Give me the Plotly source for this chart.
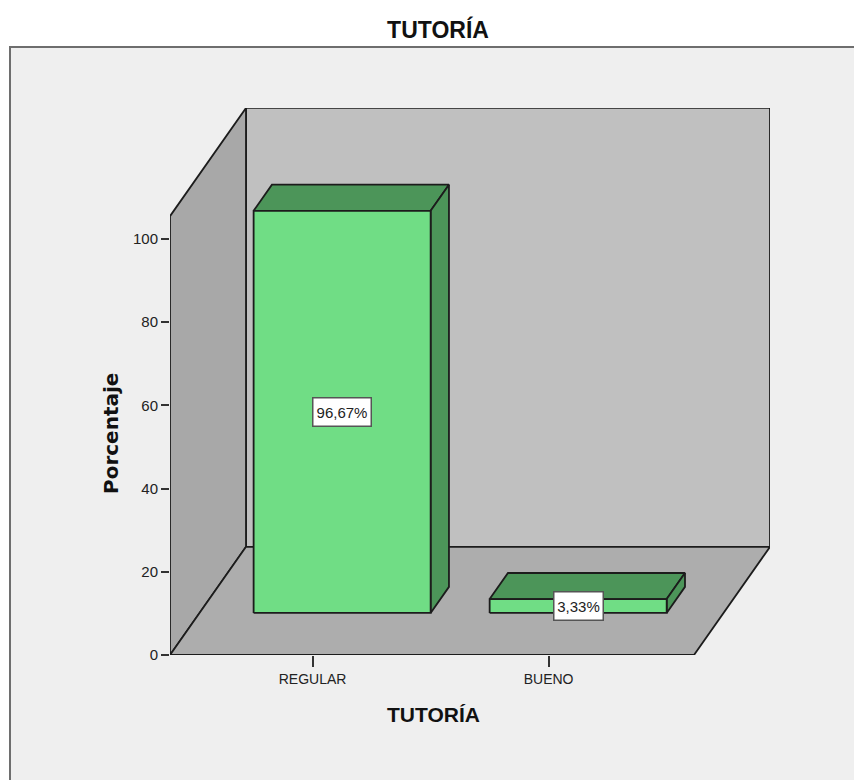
import plotly.graph_objects as go

# Data
categories = ["REGULAR", "BUENO"]
percentages = [96.67, 3.33]
labels = ["96,67%", "3,33%"]
y_ticks = [0, 20, 40, 60, 80, 100]
chart_title = "TUTORÍA"
x_title = "TUTORÍA"
y_title = "Porcentaje"

# Pseudo-3D projection, in axis units
BAR_W = 0.75
X_MIN, X_MAX = -0.604, 1.616
DEPTH_X, DEPTH_Y = 0.322, 26.0
WALL_TOP = 105.5
F0, F1 = 0.389, 0.63

# Page body has an 8px margin, so the figure is 846x772 and pixel values are offset
OFF = 8
W, H = 854 - OFF, 780 - OFF
L, R, T, B = 170 - OFF, 84, 108 - OFF, 125
PANEL = dict(x0=10 - OFF, x1=900, y0=47 - OFF, y1=800)
Y_MAX = (H - T - B) / 4.16
X_RANGE_MAX = X_MAX + DEPTH_X
LABEL_BOX_W = [57, 48]
LABEL_BOX_H = 27

LINE = "#1c1c1c"
BACK = "#c0c0c0"
SIDE = "#a8a8a8"
FLOOR = "#adadad"
BAR_FRONT = "#70dd85"
BAR_DARK = "#4c9559"


def proj(x, y, depth):
    return x + DEPTH_X * depth, y + DEPTH_Y * depth


def poly(points, fill, width=1.8, color=LINE):
    xs = [p[0] for p in points] + [points[0][0]]
    ys = [p[1] for p in points] + [points[0][1]]
    return go.Scatter(x=xs, y=ys, mode="lines", fill="toself", fillcolor=fill,
                      line=dict(color=color, width=width), hoverinfo="skip",
                      showlegend=False, cliponaxis=False)


fig = go.Figure()
# Walls and floor
fig.add_trace(poly([proj(X_MIN, 0, 1), proj(X_MAX, 0, 1), proj(X_MAX, WALL_TOP, 1), proj(X_MIN, WALL_TOP, 1)], BACK))
fig.add_trace(poly([proj(X_MIN, 0, 0), proj(X_MIN, 0, 1), proj(X_MIN, WALL_TOP, 1), proj(X_MIN, WALL_TOP, 0)], SIDE))
fig.add_trace(poly([proj(X_MIN, 0, 0), proj(X_MAX, 0, 0), proj(X_MAX, 0, 1), proj(X_MIN, 0, 1)], FLOOR))

# Bars
for i, v in enumerate(percentages):
    a, b = i - BAR_W / 2, i + BAR_W / 2
    fig.add_trace(poly([proj(a, v, F0), proj(b, v, F0), proj(b, v, F1), proj(a, v, F1)], BAR_DARK))
    fig.add_trace(poly([proj(b, 0, F0), proj(b, 0, F1), proj(b, v, F1), proj(b, v, F0)], BAR_DARK))
    fig.add_trace(poly([proj(a, 0, F0), proj(b, 0, F0), proj(b, v, F0), proj(a, v, F0)], BAR_FRONT))

# Value labels
annotations = []
for i, (v, t) in enumerate(zip(percentages, labels)):
    cx, cy = proj(i, v / 2, F0)
    annotations.append(dict(x=cx, y=cy, xref="x", yref="y", text=t, showarrow=False,
                            width=LABEL_BOX_W[i], height=LABEL_BOX_H, align="center", valign="middle",
                            font=dict(family="Liberation Sans", size=15, color="#222"),
                            bgcolor="white", bordercolor="#555", borderwidth=1.5, borderpad=0))

# Axis titles at the reference positions
annotations.append(dict(xref="paper", yref="paper", x=(111 - OFF - L) / (W - L - R),
                        y=(H - B - (434 - OFF)) / (H - T - B), text=y_title, textangle=-90,
                        showarrow=False, xanchor="center", yanchor="middle",
                        font=dict(family="DejaVu Sans", size=20, color="#111", weight="bold")))
annotations.append(dict(xref="paper", yref="paper", x=(433 - OFF - L) / (W - L - R),
                        y=(H - B - (714 - OFF)) / (H - T - B), text=x_title,
                        showarrow=False, xanchor="center", yanchor="middle",
                        font=dict(family="Liberation Sans", size=21, color="#111", weight="bold")))

fig.update_layout(
    width=W, height=H, autosize=False,
    margin=dict(l=L, r=R, t=T, b=B, pad=0),
    paper_bgcolor="white", plot_bgcolor="rgba(0,0,0,0)",
    showlegend=False,
    font=dict(family="Liberation Sans", color="#222"),
    title=dict(text=chart_title, x=(438 - OFF) / W, xanchor="center", y=1 - (30 - OFF) / H, yanchor="middle",
               font=dict(family="Liberation Sans", size=23, color="#111", weight="bold")),
    xaxis=dict(range=[X_MIN, X_RANGE_MAX], tickmode="array", tickvals=[0, 1], ticktext=categories,
               ticks="outside", ticklen=11, tickcolor="#333", tickwidth=1.5, showgrid=False, zeroline=False,
               showline=False, tickfont=dict(size=14, family="Liberation Sans")),
    yaxis=dict(range=[0, Y_MAX], tickmode="array", tickvals=y_ticks, ticks="outside", ticklen=8,
               tickcolor="#333", tickwidth=1.5, showgrid=False, zeroline=False, showline=False,
               tickfont=dict(size=15, family="Liberation Sans")),
    shapes=[dict(type="rect", xref="paper", yref="paper", layer="below",
                 x0=(PANEL["x0"] - L) / (W - L - R), x1=(PANEL["x1"] - L) / (W - L - R),
                 y0=(H - B - PANEL["y1"]) / (H - T - B), y1=(H - B - PANEL["y0"]) / (H - T - B),
                 fillcolor="#efefef", line=dict(color="#6e6e6e", width=2))],
    annotations=annotations,
)

fig.write_html("out.html",
               post_script="document.body.style.margin='8px 0 0 8px';"
                           "document.documentElement.style.overflow='hidden';")
